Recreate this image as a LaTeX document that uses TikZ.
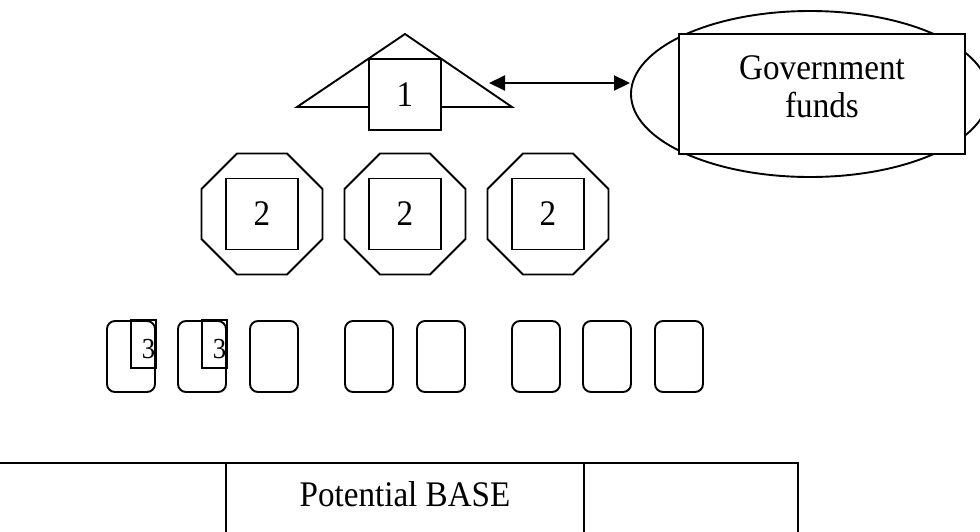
\documentclass[tikz,border=0pt]{standalone}
\usepackage{fontspec}
\setmainfont[FakeStretch=0.92]{Liberation Serif}
\usetikzlibrary{arrows.meta,shapes.geometric}

\tikzset{
  px/.style={x=1pt,y=-1pt},
  thinline/.style={line width=1.9pt},
  tableline/.style={line width=2.2pt},
  box/.style={draw,thinline,fill=white,inner sep=0pt},
  octa/.style={draw,thinline,regular polygon,regular polygon sides=8,minimum size=131pt,inner sep=0pt},
  card/.style={draw,thinline,rounded corners=8pt,minimum width=48pt,minimum height=71pt,inner sep=0pt},
  bigfont/.style={font=\fontsize{36}{38}\selectfont},
  smallfont/.style={font=\fontsize{29}{30}\selectfont},
  wordtip/.tip={Triangle[length=16pt,width=15pt]},
}

\begin{document}
\begin{tikzpicture}[px]
			%%%%% START %%%%%
			\clip (0,0) rectangle (980,531);
			
			% roof with box 1
			\draw[thinline] (297,107) -- (405,34) -- (512,107) -- cycle;
			\node[box,minimum width=72pt,minimum height=71pt,bigfont] (one) at (405,94.5) {1};
			
			% government funds
			\node[draw,thinline,ellipse,minimum width=358pt,minimum height=166pt,inner sep=0pt] (govring) at (810,94) {};
			\node[box,minimum width=286pt,minimum height=120pt] (gov) at (822,94) {};
			\node[bigfont,align=center] (govtext) at ([yshift=7.5pt]gov.center) {Government\\funds};
			
			\coordinate (tip) at (489,83);
			\draw[thinline,wordtip-wordtip] (tip) -- (tip -| govring.west);
			
			% second row
			\foreach \cx [count=\i] in {262,405,548} {
				\node[octa] (oct\i) at (\cx,214) {};
				\node[box,minimum width=72pt,minimum height=71pt,bigfont] (sq\i) at (oct\i.center) {2};
			}
			
			% third row
			\foreach \cx [count=\i] in {131,202,274,369,441,536,607,679} {
				\node[card] (card\i) at (\cx,356.5) {};
			}
			\foreach \i in {1,2} {
				\draw[thinline] (card\i.north) rectangle ([yshift=-48pt]card\i.north east);
				\node[smallfont,anchor=east,inner sep=0.5pt] (three\i) at ([yshift=-28.5pt]card\i.north east) {3};
			}
			
			% base
			\draw[tableline] (-20,463) rectangle (798,580);
			\draw[tableline] (226,463) -- (226,580);
			\draw[tableline] (584,463) -- (584,580);
			\node[bigfont] (basetext) at (405,494) {Potential BASE};
			
			%%%%% END %%%%%
\end{tikzpicture}
\end{document}
